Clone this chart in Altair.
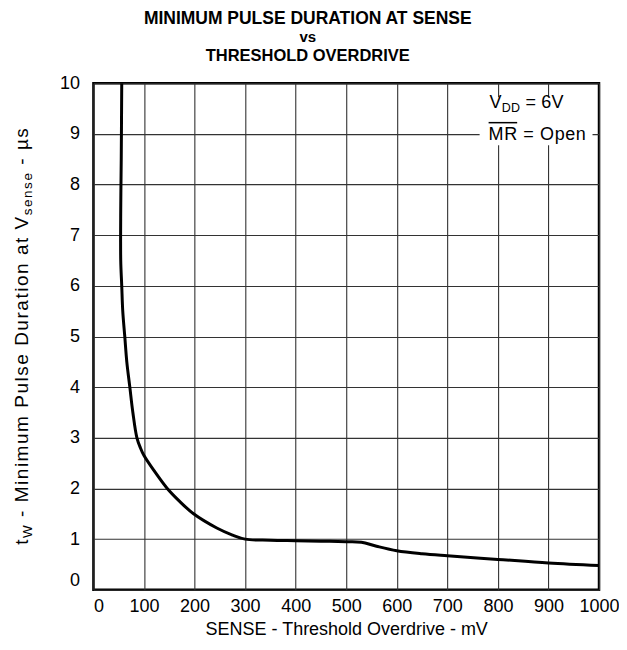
import altair as alt
import pandas as pd

# ---- data ----
sense_mv = [56, 55, 54, 54, 56, 58, 62, 66, 72, 78, 86, 93, 100, 120, 146, 170, 198,
            244, 275, 300, 350, 400, 450, 500, 530, 560, 600, 650, 700, 800, 900, 1000]
duration_us = [10.0, 8.5, 7.5, 6.5, 6.0, 5.5, 5.0, 4.5, 4.0, 3.5, 3.0, 2.8, 2.65, 2.35, 2.0,
               1.75, 1.5, 1.22, 1.08, 1.0, 0.98, 0.97, 0.96, 0.95, 0.94, 0.86, 0.77,
               0.71, 0.67, 0.60, 0.53, 0.48]
x_ticks = list(range(0, 1001, 100))
y_ticks = list(range(0, 11, 1))
title_lines = ["MINIMUM PULSE DURATION AT SENSE", "vs", "THRESHOLD OVERDRIVE"]
x_title = "SENSE - Threshold Overdrive - mV"
y_title_parts = [("t", "main"), ("W", "sub"), (" - Minimum Pulse Duration at V", "main"),
                 ("sense", "sub"), (" - \u00b5s", "main")]
legend_line1 = [("V", "main"), ("DD", "sub"), (" = 6V", "main")]
legend_line2 = [("MR", "main"), (" = Open", "main")]

FONT = "Liberation Sans"
W, H = 506, 507
XMAX, YMAX = 1000.0, 10.0

# Arial / Liberation Sans advance widths (1/1000 em)
ADV = {' ': 278, '-': 333, '=': 584, '\u00b5': 576, '6': 556,
       'a': 556, 'b': 556, 'c': 500, 'd': 556, 'e': 556, 'f': 278, 'g': 556, 'h': 556,
       'i': 222, 'j': 222, 'k': 500, 'l': 222, 'm': 833, 'n': 556, 'o': 556, 'p': 556,
       'q': 556, 'r': 333, 's': 500, 't': 278, 'u': 556, 'v': 500, 'w': 722, 'x': 500,
       'y': 500, 'z': 500, 'A': 667, 'B': 667, 'C': 722, 'D': 722, 'E': 667, 'F': 611,
       'G': 778, 'H': 722, 'I': 278, 'M': 833, 'N': 722, 'O': 778, 'P': 667, 'R': 722,
       'S': 667, 'T': 611, 'U': 722, 'V': 667, 'W': 944}


def tw(s, size):
    return sum(ADV.get(c, 556) for c in s) * size / 1000.0


def to_data(px, py):
    """pixel offset inside the plot -> data coordinates of the shared scales"""
    return px * XMAX / W, YMAX - py * YMAX / H


def spaced_layers(parts, sizes, shifts, x0, y0, spacing, angle=0):
    """one text layer per part; characters placed one by one with extra spacing"""
    out = []
    pos = 0.0
    for s, kind in parts:
        size, shift = sizes[kind], shifts[kind]
        rows = []
        for c in s:
            if c != " ":
                if angle == 270:
                    px, py = x0 + shift, y0 - pos
                else:
                    px, py = x0 + pos, y0 + shift
                dx_, dy_ = to_data(px, py)
                rows.append({"ch": c, "mx": dx_, "my": dy_})
            pos += tw(c, size) + spacing
        if rows:
            out.append(alt.Chart(pd.DataFrame(rows)).mark_text(
                font=FONT, fontSize=size, align="left", baseline="alphabetic",
                angle=angle, color="black"
            ).encode(x="mx:Q", y="my:Q", text="ch:N"))
    return out


def span(parts, sizes, spacing):
    n = sum(len(s) for s, _ in parts)
    return sum(tw(s, sizes[k]) for s, k in parts) + spacing * (n - 1)


df = pd.DataFrame({"mv": sense_mv, "us": duration_us, "i": range(len(sense_mv))})

line = alt.Chart(df).mark_line(color="black", strokeWidth=3, interpolate="catmull-rom",
                               clip=True).encode(
    x=alt.X("mv:Q", scale=alt.Scale(domain=[0, XMAX], nice=False, zero=False),
            axis=alt.Axis(values=x_ticks, title=x_title, format="d",
                          labelAlign={"condition": {"test": "datum.value == 0", "value": "left"},
                                      "value": "center"})),
    y=alt.Y("us:Q", scale=alt.Scale(domain=[0, YMAX], nice=False, zero=False),
            axis=alt.Axis(values=y_ticks, title=None, format="d",
                          labelBaseline={"condition": {"test": "datum.value == 0", "value": "bottom"},
                                         "value": "middle"})),
    order="i:O",
)

# legend box (white, hides the grid)
box = alt.Chart(pd.DataFrame({"k": [0]})).mark_rect(fill="white").encode(
    x=alt.value(386.5), x2=alt.value(499.5), y=alt.value(14), y2=alt.value(62))

layers = [box, line]

# title lines
title_sizes = [17.5, 15, 16.5]
for txt, py, fs in zip(title_lines, [-59, -41, -22], title_sizes):
    layers.append(
        alt.Chart(pd.DataFrame({"t": [txt]})).mark_text(
            font=FONT, fontSize=fs, fontWeight="bold", align="center",
            baseline="alphabetic", color="black"
        ).encode(x=alt.value(214.5), y=alt.value(py), text="t:N"))

# legend text
lsz = {"main": 18, "sub": 12.5}
lsh = {"main": 0, "sub": 4}
layers += spaced_layers(legend_line1, lsz, lsh, 396.5, 25, 0.2)
layers += spaced_layers(legend_line2, lsz, lsh, 395.5, 57, 0.6)
overline = alt.Chart(pd.DataFrame({"k": [0]})).mark_rule(color="black", strokeWidth=1.5).encode(
    x=alt.value(395.5), x2=alt.value(395.5 + tw("MR", 18) + 0.6), y=alt.value(39.5))
layers.append(overline)

# rotated y-axis title with subscripts, spread over the reference's length
ysz = {"main": 19, "sub": 13.5}
ysh = {"main": 0, "sub": 4}
target_len = 417.0
n_chars = sum(len(s) for s, _ in y_title_parts)
base_len = span(y_title_parts, ysz, 0)
ysp = (target_len - base_len) / (n_chars - 1)
y0 = H / 2 + target_len / 2
layers += spaced_layers(y_title_parts, ysz, ysh, -65.5, y0, ysp, angle=270)

chart = alt.layer(*layers).properties(
    width=W, height=H,
    padding={"left": 85.5, "top": 75, "right": 20, "bottom": 52},
    autosize=alt.AutoSizeParams(type="none"),
).configure_view(
    stroke="black", strokeWidth=2.5
).configure_axis(
    grid=True, gridColor="#333333", gridWidth=1.1, gridOpacity=1,
    ticks=False, domain=False,
    labelFont=FONT, labelFontSize=18, labelColor="black",
    titleFont=FONT, titleFontSize=18, titleFontWeight="normal", titleColor="black",
).configure_axisX(
    labelPadding=8, titlePadding=5, labelFlush=False,
).configure_axisY(
    labelPadding=14,
)

chart.save("out.html", embed_options={"renderer": "svg", "actions": False})
